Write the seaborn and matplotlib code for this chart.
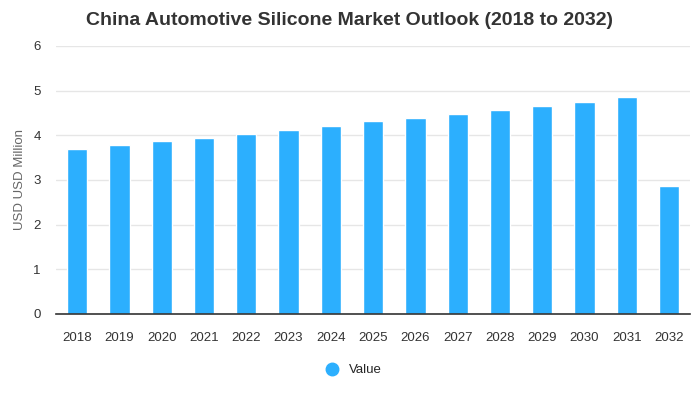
import numpy as np
import matplotlib
matplotlib.use("Agg")
import matplotlib.pyplot as plt
import pandas as pd
import seaborn as sns

years = ["2018", "2019", "2020", "2021", "2022", "2023", "2024", "2025",
         "2026", "2027", "2028", "2029", "2030", "2031", "2032"]
values = [3.70, 3.79, 3.88, 3.95, 4.03, 4.12, 4.21, 4.31,
          4.39, 4.48, 4.57, 4.66, 4.75, 4.86, 2.87]
y_ticks = [0, 1, 2, 3, 4, 5, 6]

sns.set_style("white")
plt.rcParams['font.family'] = ['Liberation Sans', 'DejaVu Sans']

df = pd.DataFrame({"Year": years, "Value": values})

fig = plt.figure(figsize=(7, 4), dpi=100)
ax = fig.add_axes([0.08, 0.215, 0.906, 0.67])

sns.barplot(data=df, x="Year", y="Value", color="#2caffe", width=0.48,
            saturation=1, ax=ax)

ax.set_ylim(0, 6)
ax.set_yticks(y_ticks)
ax.yaxis.grid(True, color="#e6e6e6", linewidth=1)
ax.set_axisbelow(True)
for s in ["top", "right", "left"]:
    ax.spines[s].set_visible(False)
ax.spines["bottom"].set_color("#333333")
ax.spines["bottom"].set_linewidth(1.2)
ax.tick_params(axis="both", length=0, labelsize=9.5, colors="#333333")
ax.tick_params(axis="x", pad=13)
ax.tick_params(axis="y", pad=11)
ax.set_xlabel("")
ax.set_ylabel("USD USD Million", fontsize=9.5, color="#666666")
ax.yaxis.set_label_coords(-0.047, 0.5)

fig.suptitle("China Automotive Silicone Market Outlook (2018 to 2032)",
             fontsize=14, fontweight="bold", color="#333333", x=0.5, y=0.97)

handle = plt.Line2D([], [], marker="o", linestyle="", markersize=9,
                    markerfacecolor="#2caffe", markeredgecolor="#2caffe")
fig.legend([handle], ["Value"], loc="center", bbox_to_anchor=(0.5, 0.075),
           frameon=False, fontsize=9.5, handletextpad=0.3)

fig.savefig("out.png", dpi=100)
